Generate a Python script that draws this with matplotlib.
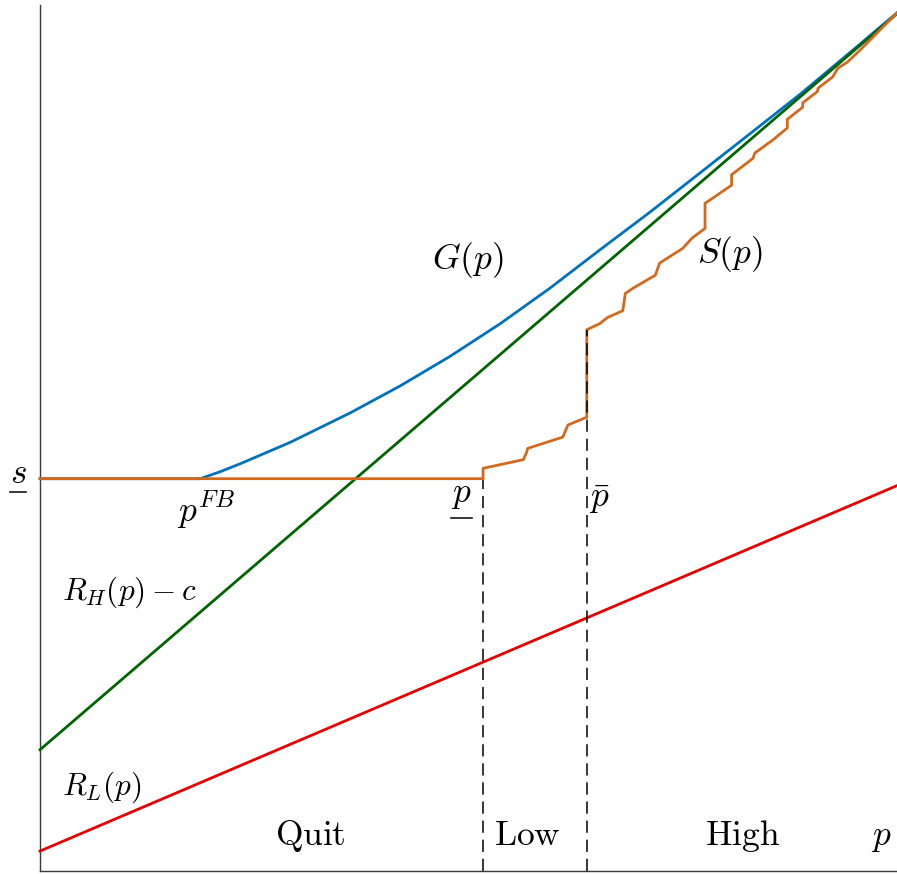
import matplotlib
matplotlib.use("Agg")
import matplotlib.pyplot as plt
from matplotlib.lines import Line2D
import numpy as np

plt.rcParams['mathtext.fontset'] = 'cm'
plt.rcParams['font.family'] = ['DejaVu Serif']

# ---- data (normalized units) ----
p_grid = [0.0, 1.0]
RH_minus_c = [0.14, 0.99]
RL = [0.023, 0.445]
s_low = 0.453

G_p = [0.0, 0.187, 0.210, 0.233, 0.292, 0.362, 0.420, 0.478, 0.537, 0.595, 0.653,
       0.712, 0.770, 0.828, 0.887, 0.945, 1.0]
G_v = [0.453, 0.453, 0.461, 0.470, 0.495, 0.529, 0.560, 0.594, 0.632, 0.673, 0.717,
       0.761, 0.806, 0.851, 0.897, 0.945, 0.991]

S_p = [0.0, 0.517, 0.517, 0.564, 0.568, 0.569, 0.610, 0.616, 0.638, 0.638, 0.653, 0.662,
       0.680, 0.683, 0.692, 0.718, 0.723, 0.750, 0.761, 0.776, 0.776, 0.785, 0.807, 0.807,
       0.832, 0.834, 0.855, 0.872, 0.872, 0.890, 0.890, 0.907, 0.908, 0.925, 0.931, 0.942,
       0.957, 1.0]
S_v = [0.453, 0.453, 0.465, 0.475, 0.484, 0.488, 0.501, 0.515, 0.524, 0.625, 0.632, 0.639,
       0.647, 0.667, 0.673, 0.688, 0.702, 0.719, 0.731, 0.742, 0.771, 0.777, 0.792, 0.804,
       0.823, 0.829, 0.844, 0.858, 0.868, 0.882, 0.887, 0.900, 0.904, 0.917, 0.927, 0.934,
       0.948, 0.991]

p_under = 0.517
p_bar = 0.638
S_at_pbar = 0.625

region_labels = [r'$\mathrm{Quit}$', r'$\mathrm{Low}$', r'$\mathrm{High}$']
region_x = [0.315, 0.569, 0.820]

# ---- figure ----
W, H = 897, 874
fig = plt.figure(figsize=(W / 100, H / 100), dpi=100)
ax = fig.add_axes([40 / W, 3 / H, 857 / W, 866 / H])
ax.set_xlim(0, 1)
ax.set_ylim(0, 1)
for side in ['top', 'right']:
    ax.spines[side].set_visible(False)
for side in ['left', 'bottom']:
    ax.spines[side].set_color('#3a3a3a')
    ax.spines[side].set_linewidth(1.0)
ax.set_xticks([])
ax.set_yticks([])

blue = '#0072BD'
green = '#006400'
red = '#E60000'
orange = '#D2691E'
lw = 2.0

ax.plot(p_grid, RL, color=red, lw=lw, clip_on=False, zorder=3)
ax.plot(p_grid, RH_minus_c, color=green, lw=lw, clip_on=False, zorder=4)
ax.plot(G_p, G_v, color=blue, lw=lw, clip_on=False, zorder=3)
ax.plot(S_p, S_v, color=orange, lw=lw, clip_on=False, zorder=5)

dash = (0, (8.0, 4.5))
ax.plot([p_under, p_under], [0, s_low], color='black', lw=1.1, linestyle=dash, zorder=2)
ax.plot([p_bar, p_bar], [0, S_at_pbar], color='black', lw=1.1, linestyle=dash, zorder=6)

fs = 25.5
fs2 = 22.5
kw = dict(va='baseline')
t_s = ax.text(-0.0257, 0.448, r'$s$', fontsize=fs, ha='center', clip_on=False, **kw)
ax.text(0.160, 0.403, r'$p^{FB}$', fontsize=fs, ha='left', **kw)
t_pu = ax.text(0.492, 0.426, r'$p$', fontsize=fs, ha='center', **kw)
ax.text(0.641, 0.420, r'$\bar{p}$', fontsize=fs, ha='left', **kw)
ax.text(0.457, 0.695, r'$G(p)$', fontsize=fs, ha='left', **kw)
ax.text(0.767, 0.702, r'$S(p)$', fontsize=fs, ha='left', **kw)
ax.text(0.0257, 0.313, r'$R_H(p) - c$', fontsize=fs2, ha='left', **kw)
ax.text(0.0257, 0.088, r'$R_L(p)$', fontsize=fs2, ha='left', **kw)
for lab, x in zip(region_labels, region_x):
    ax.text(x, 0.030, lab, fontsize=fs, ha='center', **kw)
ax.text(0.982, 0.030, r'$p$', fontsize=fs, ha='center', **kw)

# underline decorations derived from text extents / baselines
fig.canvas.draw()
renderer = fig.canvas.get_renderer()
for t, below in [(t_s, 9), (t_pu, 16)]:
    bb = t.get_window_extent(renderer)
    _, ybase = ax.transData.transform(t.get_position())
    y = ybase - below
    (fx0, fy), (fx1, _) = fig.transFigure.inverted().transform([(bb.x0, y), (bb.x1, y)])
    fig.add_artist(Line2D([fx0, fx1], [fy, fy], color='black', lw=1.1, transform=fig.transFigure))

fig.savefig('out.png', dpi=100)
